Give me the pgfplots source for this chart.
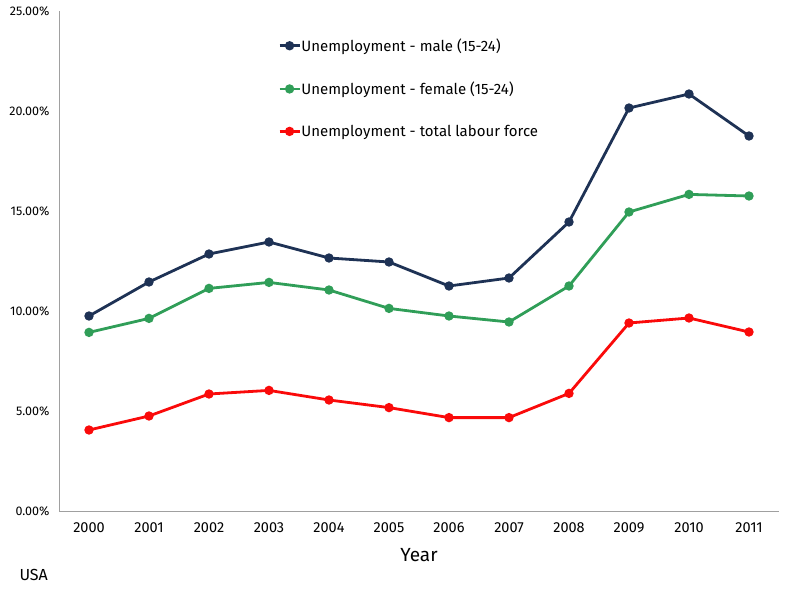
\documentclass[border=0pt]{standalone}
\usepackage{pgfplots}
\pgfplotsset{compat=1.18}
\usepackage{fontspec}
\setmainfont{Fira Sans}
\definecolor{navy}{RGB}{30,50,85}
\definecolor{grn}{RGB}{48,158,88}
\definecolor{rd}{RGB}{250,10,10}
\definecolor{axgray}{RGB}{160,160,160}
\begin{document}
\begin{tikzpicture}
\useasboundingbox (-59bp,-86bp) rectangle (741bp,511bp);
\begin{axis}[
  at={(0,0)}, anchor=south west,
  scale only axis, width=720bp, height=500bp,
  xmin=-0.5, xmax=11.5, ymin=0, ymax=25,
  axis lines*=left,
  axis line style={axgray, line width=0.8pt, -},
  xtick={0,...,11},
  xticklabels={2000,2001,2002,2003,2004,2005,2006,2007,2008,2009,2010,2011},
  ytick={0,5,10,15,20,25},
  yticklabels={0.00\%,5.00\%,10.00\%,15.00\%,20.00\%,25.00\%},
  major tick length=0pt,
  xticklabel style={font=\fontsize{14.5bp}{16bp}\selectfont, yshift=-8bp},
  yticklabel style={font=\fontsize{12.5bp}{14bp}\selectfont, xshift=-6bp},
  xlabel={Year},
  xlabel style={font=\fontsize{19bp}{21bp}\selectfont, yshift=-9bp},
  legend style={at={(0.3,0.950)}, anchor=north west, draw=none, fill=none,
    font=\fontsize{15bp}{17bp}\selectfont, row sep=28bp,
    nodes={inner sep=0.5bp}},
  legend cell align=left,
  legend image code/.code={
    \draw[#1, mark=none] (0bp,0bp) -- (20bp,0bp);
    \draw[#1, only marks] plot coordinates {(10bp,0bp)};
  },
  every axis plot/.append style={line width=2.8bp, mark=*, mark size=3.2bp},
]
\addplot[navy, mark options={fill=navy}] coordinates {
(0,9.75) (1,11.45) (2,12.85) (3,13.45) (4,12.65) (5,12.45)
(6,11.25) (7,11.65) (8,14.45) (9,20.15) (10,20.85) (11,18.75)};
\addlegendentry{Unemployment - male (15-24)}
\addplot[grn, mark options={fill=grn}] coordinates {
(0,8.93) (1,9.63) (2,11.13) (3,11.43) (4,11.05) (5,10.13)
(6,9.75) (7,9.45) (8,11.25) (9,14.95) (10,15.83) (11,15.75)};
\addlegendentry{Unemployment - female (15-24)}
\addplot[rd, mark options={fill=rd}] coordinates {
(0,4.05) (1,4.75) (2,5.85) (3,6.03) (4,5.55) (5,5.17)
(6,4.67) (7,4.67) (8,5.88) (9,9.4) (10,9.65) (11,8.95)};
\addlegendentry{Unemployment - total labour force}
\end{axis}
\node[anchor=base west, font=\fontsize{16bp}{18bp}\selectfont] at (-43bp,-69bp) {USA};
\end{tikzpicture}
\end{document}
